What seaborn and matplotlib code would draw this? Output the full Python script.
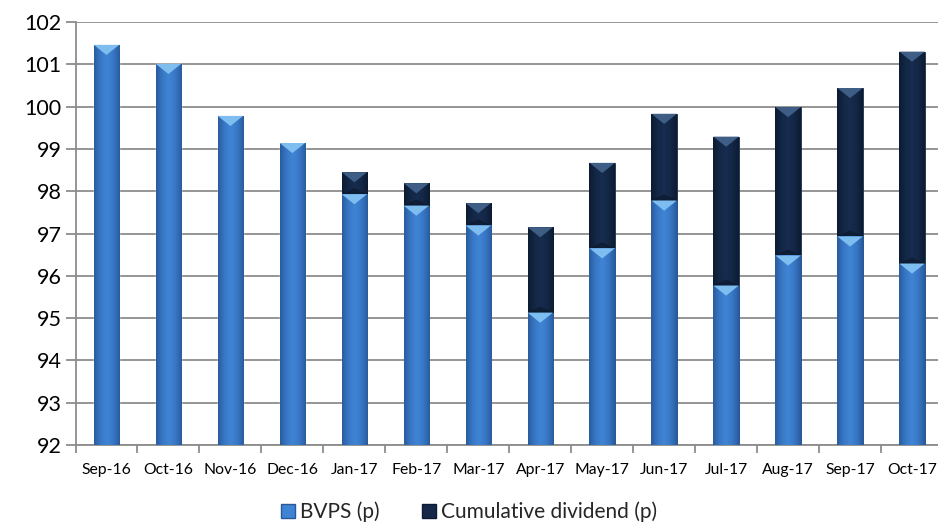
import numpy as np
import pandas as pd
import matplotlib
matplotlib.use("Agg")
import matplotlib.pyplot as plt
import seaborn as sns
from matplotlib.colors import LinearSegmentedColormap
from matplotlib.patches import Patch, Polygon

# Book value per share and cumulative dividend, in pence
months = ["Sep-16", "Oct-16", "Nov-16", "Dec-16", "Jan-17", "Feb-17", "Mar-17",
          "Apr-17", "May-17", "Jun-17", "Jul-17", "Aug-17", "Sep-17", "Oct-17"]
bvps = [101.46, 101.01, 99.78, 99.14, 97.93, 97.66, 97.19,
        95.13, 96.65, 97.78, 95.77, 96.48, 96.93, 96.29]
cum_div = [0.0, 0.0, 0.0, 0.0, 0.52, 0.53, 0.53,
           2.02, 2.02, 2.05, 3.52, 3.51, 3.51, 5.01]
y_ticks = list(range(92, 103))
legend_labels = ["BVPS (p)", "Cumulative dividend (p)"]

df = pd.DataFrame({"month": months, "bvps": bvps, "div": cum_div})
df["total"] = df["bvps"] + df["div"]

sns.set_theme(style="white")
plt.rcParams["font.family"] = ["Lato", "DejaVu Sans"]

fig = plt.figure(figsize=(9.38, 5.31), dpi=100)
ax = fig.add_axes([75.5 / 938, 86 / 531, 867.5 / 938, 423 / 531])

blue_c, navy_c = "#3A7BCB", "#15284A"
bar_w = 0.41
sns.barplot(data=df, x="month", y="total", color=navy_c, width=bar_w,
            saturation=1, ax=ax, zorder=2)
sns.barplot(data=df, x="month", y="bvps", color=blue_c, width=bar_w,
            saturation=1, ax=ax, zorder=3)

ymin, ymax = 92, 102
blue_cmap = LinearSegmentedColormap.from_list(
    "bl", ["#2A5C9E", "#3878C6", "#3F84D4", "#3878C6", "#2A5C9E"])
navy_cmap = LinearSegmentedColormap.from_list(
    "nv", ["#0C1B31", "#132746", "#172C4E", "#132746", "#0C1B31"])
grad = np.linspace(0, 1, 64).reshape(1, -1)

n = len(months)
navy_patches = ax.patches[:n]
blue_patches = ax.patches[n:2 * n]
bevel_h = 0.24  # depth of the top bevel, data units


def shade(patch, cmap, z, top_col):
    x0 = patch.get_x()
    w = patch.get_width()
    y1 = patch.get_y() + patch.get_height()
    y0 = max(patch.get_y(), ymin)
    patch.set_edgecolor("#1B2F4F" if cmap is navy_cmap else "#2A5895")
    patch.set_linewidth(0.6)
    im = ax.imshow(grad, extent=[x0, x0 + w, y0, y1], aspect="auto",
                   cmap=cmap, zorder=z + 0.1, interpolation="bicubic")
    im.set_clip_path(patch)
    tri = Polygon([[x0, y1], [x0 + w, y1], [x0 + w * 0.5, y1 - bevel_h]],
                  closed=True, facecolor=top_col, edgecolor="none",
                  zorder=z + 0.2)
    ax.add_patch(tri)
    return x0, w, y1


for i, (pn, pb) in enumerate(zip(navy_patches, blue_patches)):
    if cum_div[i] > 0:
        x0, w, _ = shade(pn, navy_cmap, 2, "#3F5E85")
        # darker lip at the bottom of the dividend block
        yb = bvps[i]
        ax.add_patch(Polygon([[x0, yb], [x0 + w, yb],
                              [x0 + w * 0.5, yb + bevel_h * 0.6]],
                             closed=True, facecolor="#0A1628",
                             edgecolor="none", alpha=0.6, zorder=2.15))
    shade(pb, blue_cmap, 3, "#7EBDF0")

ax.set_xlim(-0.5, n - 0.5)
ax.set_ylim(ymin, ymax)
ax.set_yticks(y_ticks)
ax.set_yticklabels([str(t) for t in y_ticks], fontsize=15.5, color="#000000")

ax.grid(axis="y", color="#8C8C8C", linewidth=1.3, zorder=0)
ax.set_axisbelow(True)
for s in ["top", "right"]:
    ax.spines[s].set_visible(False)
for s in ["left", "bottom"]:
    ax.spines[s].set_color("#8C8C8C")
    ax.spines[s].set_linewidth(1.3)

ax.set_xticks(range(n))
ax.set_xticklabels(months, fontsize=11.3, color="#000000")
ax.set_xticks(np.arange(-0.5, n, 1.0), minor=True)
ax.tick_params(axis="x", which="major", length=0, pad=13)
ax.tick_params(axis="x", which="minor", length=6, width=1.3,
               color="#8C8C8C", direction="out", bottom=True)
ax.tick_params(axis="y", length=7, width=1.3, color="#8C8C8C",
               direction="out", left=True, pad=3)
ax.set_xlabel("")
ax.set_ylabel("")

handles = [Patch(facecolor="#3F84D4", edgecolor="#2A5895"),
           Patch(facecolor="#15284A", edgecolor="#0C1B31")]
fig.legend(handles, legend_labels, loc="center", bbox_to_anchor=(0.5, 1 - 512 / 531),
           ncol=2, frameon=False, fontsize=15, handlelength=0.7,
           handleheight=0.7, handletextpad=0.25, columnspacing=2.0)

fig.savefig("out.png", dpi=100)
